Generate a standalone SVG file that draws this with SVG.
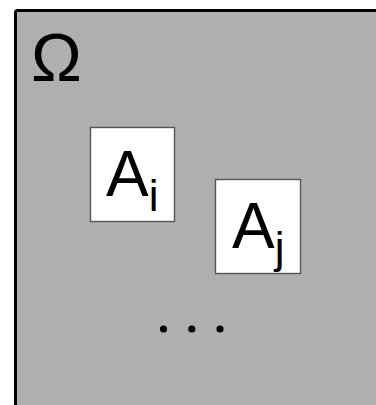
<svg xmlns="http://www.w3.org/2000/svg" width="376" height="405" viewBox="0 0 376 405">
  <style>
    .region { fill: #afafaf; stroke: #000; stroke-width: 3; }
    .set { fill: #fff; stroke: #555; stroke-width: 1.4; }
    .lbl { font-family: "Liberation Sans", Arial, sans-serif; fill: #000; }
    .big { font-size: 64px; }
    .sub { font-size: 44px; }
    .dot { fill: #000; }
  </style>
  <rect width="376" height="405" fill="#fff"/>
  <!-- domain Omega -->
  <g id="omega">
    <rect class="region" x="15.5" y="10.5" width="400" height="420" rx="2"/>
    <text class="lbl" x="31" y="81" font-size="68">Ω</text>
  </g>
  <!-- subdomain A_i -->
  <g id="set-ai">
    <rect class="set" x="90.5" y="127.5" width="84" height="94"/>
    <text class="lbl big" x="106" y="196">A<tspan class="sub" dy="15">i</tspan></text>
  </g>
  <!-- subdomain A_j -->
  <g id="set-aj">
    <rect class="set" x="215.5" y="179.5" width="85" height="94"/>
    <text class="lbl big" x="232" y="248">A<tspan class="sub" dy="15">j</tspan></text>
  </g>
  <!-- ellipsis -->
  <g id="ellipsis">
    <circle class="dot" cx="163.5" cy="329" r="3.6"/>
    <circle class="dot" cx="191.8" cy="329" r="3.6"/>
    <circle class="dot" cx="220" cy="329" r="3.6"/>
  </g>
  <g id="connectors"/>
</svg>
